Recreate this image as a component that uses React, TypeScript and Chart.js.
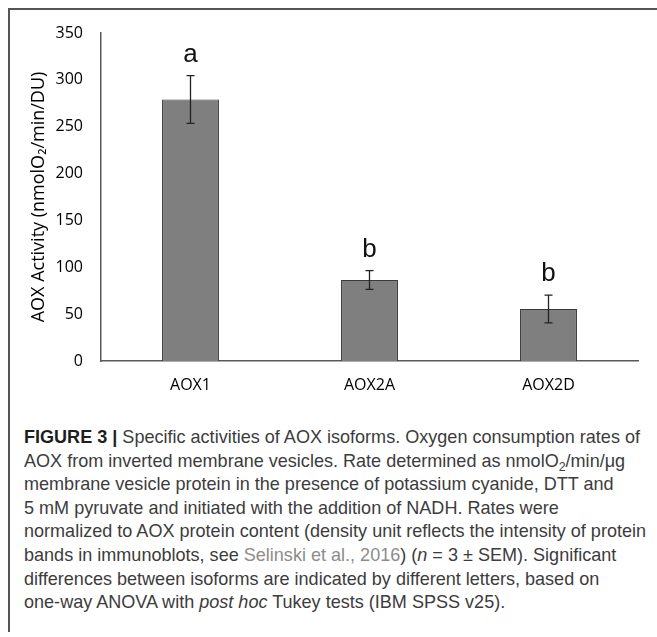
import React, { useEffect, useLayoutEffect, useRef } from "react";
import { Chart, registerables } from "chart.js";

Chart.register(...registerables);

const categories = ["AOX1", "AOX2A", "AOX2D"];
const activity = [279, 86.5, 55.5];
const sem = [25.5, 10, 14.8];
const letters = ["a", "b", "b"];
const yMin = 0;
const yMax = 350;
const yStep = 50;
const yTitle = "AOX Activity (nmolO\u2082/min/DU)";

const errorPlugin = {
  id: "errorAndLetters",
  afterDatasetsDraw(chart: any) {
    const ctx = chart.ctx;
    const meta = chart.getDatasetMeta(0);
    const ys = chart.scales.y;
    ctx.save();
    meta.data.forEach((bar: any, i: number) => {
      const x = bar.x;
      const top = ys.getPixelForValue(activity[i] + sem[i]);
      const bot = ys.getPixelForValue(activity[i] - sem[i]);
      ctx.strokeStyle = "#222";
      ctx.lineWidth = 1.3;
      ctx.beginPath();
      ctx.moveTo(x, top);
      ctx.lineTo(x, bot);
      ctx.moveTo(x - 4, top);
      ctx.lineTo(x + 4, top);
      ctx.moveTo(x - 4, bot);
      ctx.lineTo(x + 4, bot);
      ctx.stroke();
      ctx.fillStyle = "#111";
      ctx.font = "26px 'Liberation Sans', Arial, sans-serif";
      ctx.textAlign = "center";
      ctx.textBaseline = "middle";
      ctx.fillText(letters[i], x, top - 21);
    });
    ctx.restore();
  },
};

function ChartBox() {
  const ref = useRef<HTMLCanvasElement>(null);
  useEffect(() => {
    if (!ref.current) return;
    const chart = new Chart(ref.current, {
      type: "bar",
      data: {
        labels: categories,
        datasets: [
          {
            data: activity,
            backgroundColor: "#7f7f7f",
            borderColor: "#3a3a3a",
            borderWidth: 1,
            barPercentage: 0.318,
            categoryPercentage: 1,
          },
        ],
      },
      options: {
        animation: false,
        responsive: false,
        devicePixelRatio: 1,
        layout: { padding: { left: 0, right: 19, top: 33, bottom: 0 } },
        plugins: { legend: { display: false }, tooltip: { enabled: false } },
        scales: {
          x: {
            grid: { display: false, drawTicks: false },
            border: { display: true, color: "#5a5a5a", width: 1.5 },
            ticks: {
              padding: 15,
              color: "#000",
              font: { family: "'Open Sans', sans-serif", size: 16 },
            },
            afterFit: (s: any) => {
              s.height = 49;
            },
          },
          y: {
            min: yMin,
            max: yMax,
            grid: { display: false, drawTicks: false },
            border: { display: true, color: "#5a5a5a", width: 1.5 },
            ticks: {
              stepSize: yStep,
              padding: 18,
              color: "#000",
              font: { family: "'Open Sans', sans-serif", size: 16 },
            },
            title: {
              display: true,
              text: yTitle,
              color: "#000",
              font: { family: "'Open Sans', sans-serif", size: 18 },
              padding: { top: 28, bottom: 0 },
            },
            afterFit: (s: any) => {
              s.width = 101;
            },
          },
        },
      },
      plugins: [errorPlugin],
    });
    return () => chart.destroy();
  }, []);
  return (
    <canvas
      ref={ref}
      width={657}
      height={410}
      style={{ position: "absolute", left: 0, top: 0, width: 657, height: 410 }}
    />
  );
}

const sub: React.CSSProperties = { fontSize: "13px", position: "relative", top: "4px" };
const LINE_H = 23.6;

export default function App() {
  const capRef = useRef<HTMLDivElement>(null);
  const firstRef = useRef<HTMLSpanElement>(null);
  useLayoutEffect(() => {
    if (!capRef.current || !firstRef.current) return;
    const w = firstRef.current.getBoundingClientRect().width;
    if (w > 0) {
      capRef.current.style.transform = `scaleX(${616 / w})`;
    }
  }, []);
  const ln = (i: number): React.CSSProperties => ({
    position: "absolute",
    left: 0,
    top: i * LINE_H,
    whiteSpace: "pre",
    width: "max-content",
  });
  return (
    <div
      style={{
        position: "absolute",
        left: 0,
        top: 0,
        width: 657,
        height: 637,
        background: "#fff",
        overflow: "hidden",
      }}
    >
      <div
        style={{
          position: "absolute",
          left: 8,
          top: 8,
          width: 660,
          height: 622,
          borderLeft: "2px solid #555",
          borderTop: "2px solid #555",
        }}
      />
      <ChartBox />
      <div
        ref={capRef}
        style={{
          position: "absolute",
          left: 24,
          top: 425,
          width: 800,
          height: 200,
          transformOrigin: "0 0",
          fontFamily: "'Liberation Sans', Arial, sans-serif",
          fontSize: "19px",
          lineHeight: "23.6px",
          color: "#3c3c3c",
        }}
      >
        <div style={ln(0)}>
          <span ref={firstRef}>
            <b style={{ color: "#1e1e1e" }}>FIGURE 3 |</b>{" Specific activities of AOX isoforms. Oxygen consumption rates of"}
          </span>
        </div>
        <div style={ln(1)}>
          {"AOX from inverted membrane vesicles. Rate determined as nmolO"}
          <span style={sub}>2</span>
          {"/min/μg"}
        </div>
        <div style={ln(2)}>
          {"membrane vesicle protein in the presence of potassium cyanide, DTT and"}
        </div>
        <div style={ln(3)}>
          {"5 mM pyruvate and initiated with the addition of NADH. Rates were"}
        </div>
        <div style={ln(4)}>
          {"normalized to AOX protein content (density unit reflects the intensity of protein"}
        </div>
        <div style={ln(5)}>
          {"bands in immunoblots, see "}
          <span style={{ color: "#8c8c8c" }}>Selinski et al., 2016</span>
          {") ("}
          <i>n</i>
          {" = 3 ± SEM). Significant"}
        </div>
        <div style={ln(6)}>
          {"differences between isoforms are indicated by different letters, based on"}
        </div>
        <div style={ln(7)}>
          {"one-way ANOVA with "}
          <i>post hoc</i>
          {" Tukey tests (IBM SPSS v25)."}
        </div>
      </div>
    </div>
  );
}
